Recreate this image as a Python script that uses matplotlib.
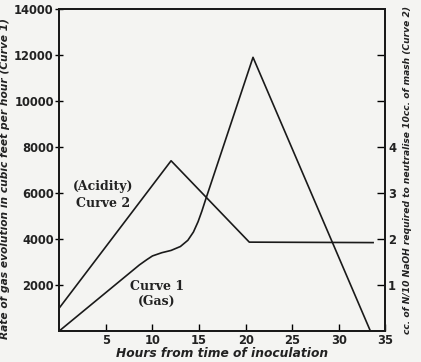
import matplotlib
matplotlib.use("Agg")
import matplotlib.pyplot as plt
import numpy as np

# Curve 1 (gas), left axis
gas_hours = [0, 8.6, 9.4, 10, 11, 12, 13, 13.8, 14.4, 14.9, 15.3, 15.7, 20.8, 33.4]
gas_rate = [0, 2870, 3100, 3260, 3400, 3500, 3670, 3940, 4300, 4750, 5200, 5700, 11900, 0]

# Curve 2 (acidity), right axis
acid_hours = [0, 12, 20.4, 33.7]
acid_cc = [0.5, 3.7, 1.93, 1.92]

x_ticks = [5, 10, 15, 20, 25, 30, 35]
y_ticks = [2000, 4000, 6000, 8000, 10000, 12000, 14000]
y2_ticks = [1, 2, 3, 4, 5, 6]
y2_labels = ["1", "2", "3", "4", "", ""]

bg = "#f4f4f2"
fig = plt.figure(figsize=(4.21, 3.62), dpi=100, facecolor=bg)
ax = fig.add_axes([0.141, 0.086, 0.774, 0.889])
ax.set_facecolor(bg)
ax2 = ax.twinx()

ax.plot(gas_hours, gas_rate, color="#1a1a1a", lw=1.2)
ax2.plot(acid_hours, acid_cc, color="#1a1a1a", lw=1.2)

ax.set_xlim(0, 35)
ax.set_ylim(0, 14000)
ax2.set_ylim(0, 7)

ax.set_xticks(x_ticks)
ax.set_yticks(y_ticks)
ax2.set_yticks(y2_ticks)
ax2.set_yticklabels(y2_labels)

for lab in ax.get_xticklabels() + ax.get_yticklabels() + ax2.get_yticklabels():
    lab.set_fontfamily("DejaVu Sans")
    lab.set_fontsize(8.3)
    lab.set_fontweight("bold")
    lab.set_color("#222222")

ax.tick_params(axis="x", direction="in", length=5, width=1, pad=2)
ax.tick_params(axis="y", direction="inout", length=6, width=1, pad=1)
ax2.tick_params(axis="y", direction="in", length=6, width=1, pad=2)

for a in (ax, ax2):
    for s in a.spines.values():
        s.set_linewidth(1.4)
        s.set_color("#1a1a1a")

ax.set_xlabel("Hours from time of inoculation", fontsize=8.8, style="italic",
              fontweight="bold", labelpad=0, color="#222222")
ax.set_ylabel("Rate of gas evolution in cubic feet per hour (Curve 1)", fontsize=7.7,
              style="italic", fontweight="bold", color="#222222")
ax.yaxis.set_label_coords(-0.152, 0.475)
ax2.set_ylabel("cc. of N/10 NaOH required to neutralise 10cc. of mash (Curve 2)",
               fontsize=6.6, style="italic", fontweight="bold", labelpad=5,
               color="#222222")

txt = dict(family="DejaVu Serif", fontsize=9, fontweight="bold", ha="center",
           va="center", color="#222222")
ax.text(4.7, 6260, "(Acidity)", **txt)
ax.text(4.7, 5560, "Curve 2", **txt)
ax.text(10.5, 1910, "Curve 1", **txt)
ax.text(10.5, 1260, "(Gas)", **txt)

fig.savefig("out.png", dpi=100, facecolor=bg)
